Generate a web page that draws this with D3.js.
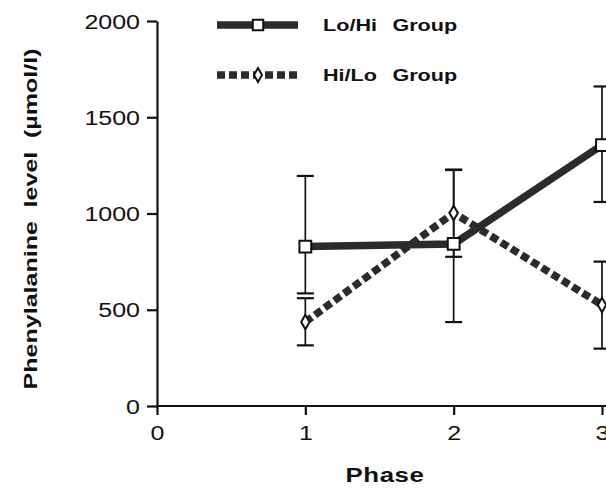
<!DOCTYPE html>
<html>
<head>
<meta charset="utf-8">
<script src="https://cdn.jsdelivr.net/npm/d3@7"></script>
<style>
  body { margin: 0; background: #fff; }
  text { font-family: "Liberation Sans", Arial, Helvetica, sans-serif; fill: #111; }
</style>
</head>
<body>
<script>
const phases = [1, 2, 3];
const xTicks = [0, 1, 2, 3];
const yTicks = [0, 500, 1000, 1500, 2000];

// Lo/Hi group: mean and error bar ends
const loHiMean = [828, 842, 1355];
const loHiUpper = [1195, 1228, 1660];
const loHiLower = [585, 436, 1060];

// Hi/Lo group
const hiLoMean = [436, 1003, 525];
const hiLoUpper = [560, 1226, 750];
const hiLoLower = [315, 775, 298];

const width = 606, height = 489;
const stretch = 1.25; // the scanned lettering is wide

let x = d3.scaleLinear().domain([0, 3]).range([157, 602]);
let y = d3.scaleLinear().domain([0, 2000]).range([406, 21]);

let svg = d3.select("body")
  .append("svg")
  .attr("width", width)
  .attr("height", height);

// y axis
let yAxis = svg.append("g")
  .attr("transform", "translate(" + x(0) + ",0)")
  .call(d3.axisLeft(y).tickValues(yTicks).tickFormat(d3.format("d")).tickSize(10).tickSizeOuter(0));
yAxis.select(".domain").attr("stroke", "#111").attr("stroke-width", 2.2);
yAxis.selectAll(".tick line").attr("stroke", "#111").attr("stroke-width", 2.2);
yAxis.selectAll(".tick text")
  .attr("x", 0)
  .attr("dy", "0.36em")
  .attr("transform", "translate(-17,0) scale(" + stretch + ",1)")
  .style("font-size", "20px");

// x axis
let xAxis = svg.append("g")
  .attr("transform", "translate(0," + y(0) + ")")
  .call(d3.axisBottom(x).tickValues(xTicks).tickFormat(d3.format("d")).tickSize(9).tickPadding(11).tickSizeOuter(0));
xAxis.select(".domain").attr("stroke", "#111").attr("stroke-width", 2.2)
  .attr("d", "M" + x(0) + ",0H" + width);
xAxis.selectAll(".tick line").attr("stroke", "#111").attr("stroke-width", 2.2);
xAxis.selectAll(".tick text")
  .attr("transform", "scale(" + stretch + ",1)")
  .style("font-size", "20px");

// axis titles
svg.append("text")
  .attr("transform", "translate(37,219) rotate(-90) scale(1.32,1)")
  .style("text-anchor", "middle")
  .style("font-size", "19px")
  .style("font-weight", "bold")
  .style("word-spacing", "5px")
  .text("Phenylalanine level (\u00b5mol/l)");

svg.append("text")
  .attr("transform", "translate(385,482) scale(1.23,1)")
  .style("text-anchor", "middle")
  .style("font-size", "21px")
  .style("font-weight", "bold")
  .style("letter-spacing", "0.5px")
  .text("Phase");

const series = [
  { name: "Lo/Hi Group", mean: loHiMean, upper: loHiUpper, lower: loHiLower, dash: null, symbol: d3.symbolSquare, size: 140 },
  { name: "Hi/Lo Group", mean: hiLoMean, upper: hiLoUpper, lower: hiLoLower, dash: "8,4", symbol: d3.symbolDiamond, size: 60 }
];

// error bars
const capW = 8.5;
series.forEach(s => {
  let g = svg.append("g").attr("stroke", "#111").attr("stroke-width", 1.7);
  phases.forEach((p, i) => {
    g.append("line")
      .attr("x1", x(p)).attr("x2", x(p))
      .attr("y1", y(s.upper[i])).attr("y2", y(s.lower[i]));
    [s.upper[i], s.lower[i]].forEach(v => {
      g.append("line")
        .attr("x1", x(p) - capW).attr("x2", x(p) + capW)
        .attr("y1", y(v)).attr("y2", y(v))
        .attr("stroke-width", 2.2);
    });
  });
});

let line = d3.line()
  .x((d, i) => x(phases[i]))
  .y(d => y(d));

// lines
series.forEach(s => {
  svg.append("path")
    .datum(s.mean)
    .attr("fill", "none")
    .attr("stroke", "#2b2b2b")
    .attr("stroke-width", 7.5)
    .attr("stroke-dasharray", s.dash)
    .attr("d", line);
});

// markers
series.forEach(s => {
  svg.selectAll(null)
    .data(s.mean)
    .enter()
    .append("path")
    .attr("transform", (d, i) => "translate(" + x(phases[i]) + "," + y(d) + ")")
    .attr("d", d3.symbol().type(s.symbol).size(s.size))
    .attr("fill", "#fff")
    .attr("stroke", "#111")
    .attr("stroke-width", 2);
});

// legend
let legend = svg.selectAll(".legend")
  .data(series)
  .enter()
  .append("g")
  .attr("class", "legend")
  .attr("transform", (d, i) => "translate(0," + (25 + i * 50) + ")");

legend.append("line")
  .attr("x1", 217).attr("x2", 298)
  .attr("stroke", "#2b2b2b")
  .attr("stroke-width", 7.5)
  .attr("stroke-dasharray", d => d.dash);

legend.append("path")
  .attr("transform", "translate(258,0)")
  .attr("d", d => d3.symbol().type(d.symbol).size(d.symbol === d3.symbolSquare ? 110 : 55)())
  .attr("fill", "#fff")
  .attr("stroke", "#111")
  .attr("stroke-width", 2);

legend.append("text")
  .attr("transform", "translate(323,0) scale(1.35,1)")
  .attr("dy", "0.38em")
  .style("font-size", "16px")
  .style("font-weight", "bold")
  .style("word-spacing", "7px")
  .text(d => d.name);
</script>
</body>
</html>
